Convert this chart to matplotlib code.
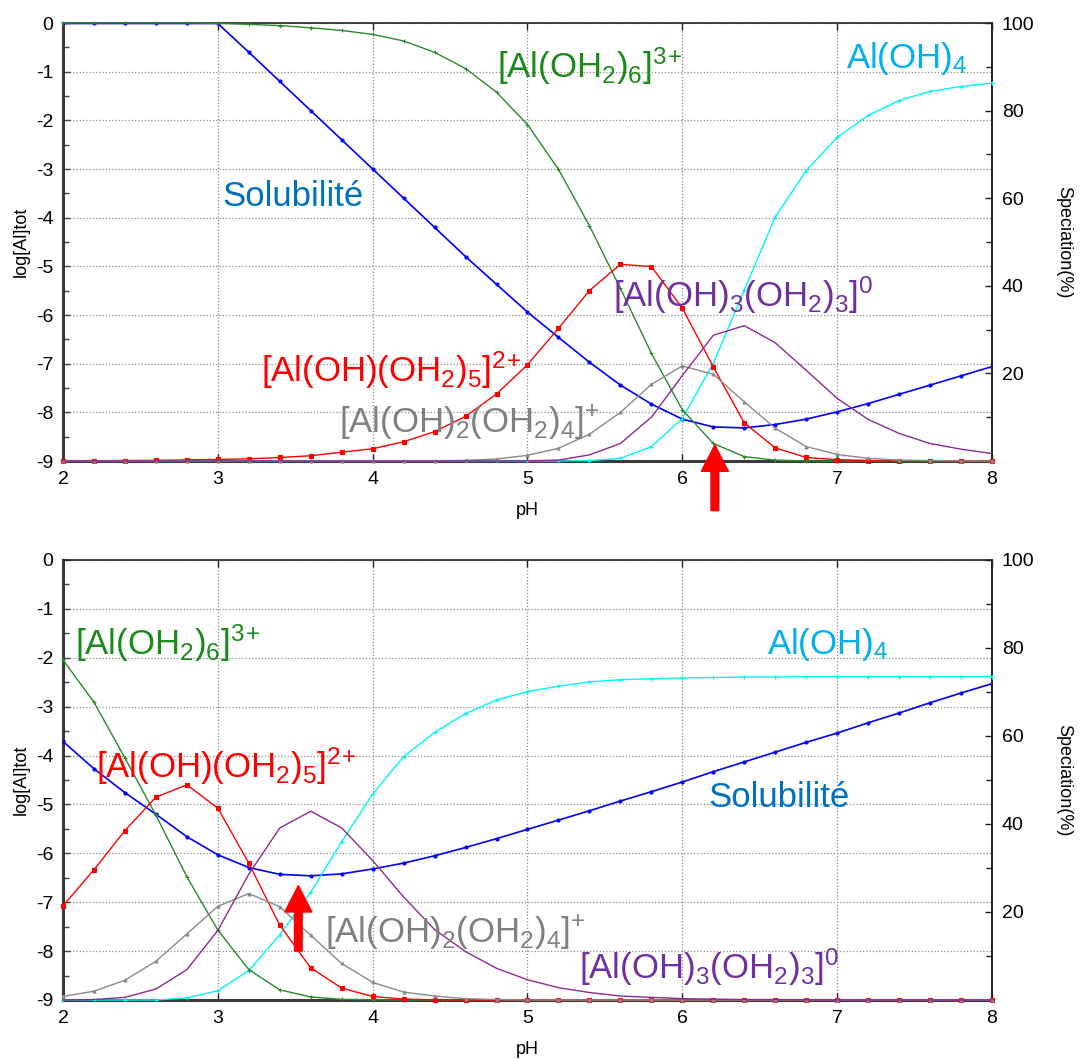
import matplotlib
matplotlib.use("Agg")
import matplotlib.pyplot as plt
from matplotlib.ticker import MultipleLocator, FixedLocator

plt.rcParams.update({
    "font.family": ["Liberation Sans", "DejaVu Sans"],
    "mathtext.fontset": "custom",
    "mathtext.rm": "Liberation Sans",
    "mathtext.it": "Liberation Sans:italic",
    "mathtext.bf": "Liberation Sans:bold",
    "mathtext.default": "regular",
    "axes.unicode_minus": False,
})

# pH grid (0.2 steps)
pH = [2.0, 2.2, 2.4, 2.6, 2.8, 3.0, 3.2, 3.4, 3.6, 3.8, 4.0, 4.2, 4.4, 4.6, 4.8,
      5.0, 5.2, 5.4, 5.6, 5.8, 6.0, 6.2, 6.4, 6.6, 6.8, 7.0, 7.2, 7.4, 7.6, 7.8, 8.0]

# ---- upper panel ----
top_sol = [-0.01, -0.01, -0.01, -0.01, -0.01, -0.01, -0.6, -1.2, -1.8, -2.4, -3.0,
           -3.6, -4.2, -4.8, -5.37, -5.94, -6.46, -6.97, -7.44, -7.83, -8.14, -8.30,
           -8.32, -8.25, -8.14, -7.99, -7.82, -7.63, -7.44, -7.25, -7.06]
top_al3 = [100, 100, 100, 100, 100, 99.9, 99.7, 99.4, 98.9, 98.3, 97.4, 95.9, 93.3,
           89.6, 84.2, 76.8, 66.6, 53.7, 39.4, 24.6, 11.7, 4.0, 1.0, 0.2, 0, 0, 0, 0,
           0, 0, 0]
top_al2 = [0, 0.05, 0.1, 0.15, 0.25, 0.35, 0.5, 0.8, 1.2, 2.0, 2.8, 4.4, 6.7, 10.2,
           15.3, 22.0, 30.3, 38.9, 44.9, 44.4, 34.9, 21.5, 8.7, 3.0, 0.8, 0.3, 0.1, 0,
           0, 0, 0]
top_al1 = [0, 0, 0, 0, 0, 0, 0, 0, 0, 0, 0, 0, 0.05, 0.15, 0.45, 1.3, 2.9, 6.1, 11.1,
           17.5, 21.7, 19.8, 13.5, 7.5, 3.3, 1.5, 0.6, 0.2, 0.1, 0, 0]
top_al0 = [0, 0, 0, 0, 0, 0, 0, 0, 0, 0, 0, 0, 0, 0, 0, 0.05, 0.2, 1.4, 4.0, 10.0,
           19.5, 28.7, 30.9, 27.0, 20.7, 14.3, 9.5, 6.3, 4.0, 2.7, 1.7]
top_al4 = [0, 0, 0, 0, 0, 0, 0, 0, 0, 0, 0, 0, 0, 0, 0, 0, 0, 0.1, 0.6, 3.3, 9.7,
           22.3, 39.0, 55.7, 66.3, 73.9, 78.9, 82.3, 84.4, 85.5, 86.3]

# ---- lower panel ----
bot_sol = [-3.71, -4.27, -4.76, -5.20, -5.66, -6.03, -6.29, -6.43, -6.46, -6.42,
           -6.32, -6.20, -6.05, -5.88, -5.70, -5.51, -5.32, -5.13, -4.93, -4.74,
           -4.54, -4.33, -4.13, -3.93, -3.73, -3.54, -3.33, -3.13, -2.92, -2.72, -2.53]
bot_al3 = [77.3, 67.7, 55.0, 42.0, 28.0, 15.9, 6.9, 2.3, 0.7, 0.15, 0.05, 0, 0, 0, 0,
           0, 0, 0, 0, 0, 0, 0, 0, 0, 0, 0, 0, 0, 0, 0, 0]
bot_al2 = [21.4, 29.6, 38.5, 46.1, 48.9, 43.6, 31.1, 17.0, 7.3, 2.7, 0.8, 0.2, 0.05,
           0, 0, 0, 0, 0, 0, 0, 0, 0, 0, 0, 0, 0, 0, 0, 0, 0, 0]
bot_al1 = [0.8, 2.0, 4.5, 8.8, 15.0, 21.3, 24.2, 21.2, 14.7, 8.3, 4.0, 1.8, 0.9, 0.3,
           0.1, 0, 0, 0, 0, 0, 0, 0, 0, 0, 0, 0, 0, 0, 0, 0, 0]
bot_al0 = [0, 0.1, 0.6, 2.5, 6.9, 15.8, 28.6, 39.1, 42.9, 39.1, 31.7, 23.4, 16.0,
           11.0, 7.2, 4.6, 2.8, 1.7, 0.9, 0.6, 0.3, 0.2, 0.1, 0.1, 0.05, 0, 0, 0, 0,
           0, 0]
bot_al4 = [0, 0, 0, 0, 0.5, 2.1, 6.7, 14.8, 24.5, 36.0, 46.8, 55.3, 60.8, 65.1, 68.2,
           70.1, 71.3, 72.3, 72.8, 73.0, 73.2, 73.3, 73.4, 73.4, 73.5, 73.5, 73.5,
           73.5, 73.5, 73.5, 73.5]

# charges written as two superscript pieces so "+" keeps no operator spacing
LBL_AL3 = r"[Al(OH$_2$)$_6$]$^{3}$$^{+}$"
LBL_AL2 = r"[Al(OH)(OH$_2$)$_5$]$^{2}$$^{+}$"
LBL_AL1 = r"[Al(OH)$_2$(OH$_2$)$_4$]$^{+}$"
LBL_AL0 = r"[Al(OH)$_3$(OH$_2$)$_3$]$^{0}$"
LBL_AL4 = r"Al(OH)$_4$"
LBL_SOL = "Solubilité"

C_SOL, C_AL3, C_AL2, C_AL1, C_AL0, C_AL4 = ("#0000ff", "#2a8a2a", "#ff0000",
                                           "#8a8a8a", "#8a2a95", "#00f5f5")
T_SOL, T_AL3, T_AL2, T_AL1, T_AL0, T_AL4 = ("#0070c0", "#1a8a1a", "#ff0000",
                                           "#808080", "#7030a0", "#00b0f0")

W, H = 1083, 1060
fig = plt.figure(figsize=(W / 100, H / 100), dpi=100)


def panel(y_top_px, y_bot_px, sol, species, labels, arrow):
    ax = fig.add_axes([63 / W, 1 - y_bot_px / H, 929 / W, (y_bot_px - y_top_px) / H])
    ax2 = ax.twinx()

    ax.set_xlim(2, 8)
    ax.set_ylim(-9, 0)
    ax2.set_ylim(0, 100)

    ax.xaxis.set_major_locator(MultipleLocator(1))
    ax.yaxis.set_major_locator(MultipleLocator(1))
    ax.yaxis.set_minor_locator(MultipleLocator(0.5))
    ax2.yaxis.set_major_locator(FixedLocator([20, 40, 60, 80, 100]))
    ax2.yaxis.set_minor_locator(FixedLocator([10, 30, 50, 70, 90]))

    ax.tick_params(axis="x", which="major", direction="in", top=True, bottom=True,
                   length=5, width=1, labelsize=14, pad=7, colors="#222222",
                   labelcolor="black")
    ax.tick_params(axis="y", which="both", direction="in", left=True, right=False,
                   labelsize=14, pad=7, colors="#444444", labelcolor="black")
    ax.tick_params(axis="y", which="major", length=5, width=1)
    ax.tick_params(axis="y", which="minor", length=4, width=1)
    ax2.tick_params(axis="y", which="both", direction="in", right=True, left=False,
                    labelsize=14, pad=7, colors="#222222", labelcolor="black")
    ax2.tick_params(axis="y", which="major", length=5, width=1)
    ax2.tick_params(axis="y", which="minor", length=4, width=1)

    ax.grid(True, which="major", linestyle=(0, (1, 1.6)), color="#8c8c8c",
            linewidth=0.9)

    for side in ("left", "bottom"):
        ax.spines[side].set_linewidth(2.2)
        ax.spines[side].set_color("#3a3a3a")
    for side in ("top", "right"):
        ax.spines[side].set_linewidth(1.2)
        ax.spines[side].set_color("#222222")
    for side in ("left", "bottom", "top"):
        ax2.spines[side].set_visible(False)
    ax2.spines["right"].set_linewidth(1.2)
    ax2.spines["right"].set_color("#222222")

    ax.set_xlabel("pH", fontsize=13, labelpad=10)
    ax.set_ylabel("log[Al]tot", fontsize=13, labelpad=4)
    ax2.set_ylabel("Speciation(%)", fontsize=13, rotation=270, va="bottom",
                   labelpad=15)

    ax.plot(pH, sol, color=C_SOL, lw=1.2, marker="o", ms=2.0, zorder=3)

    styles = [(C_AL3, "+", 3.2), (C_AL2, "s", 2.2), (C_AL1, "^", 2.2),
              (C_AL0, "", 0), (C_AL4, "+", 3.2)]
    order = [4, 0, 1, 2, 3]
    for i in order:
        col, mk, ms = styles[i]
        ax2.plot(pH, species[i], color=col, lw=1.0, marker=mk or None, ms=ms,
                 mew=0.8, clip_on=False, zorder=3)

    for text, col, x, y in labels:
        ax2.text(x, y, text, color=col, fontsize=25, ha="left", va="baseline",
                 transform=ax.transData, zorder=6)

    ax_x, tip, tail = arrow
    ax2.annotate("", xy=(ax_x, tip), xytext=(ax_x, tail),
                 xycoords=ax.transData, textcoords=ax.transData,
                 arrowprops=dict(arrowstyle="simple,head_length=1.9,head_width=1.95,"
                                            "tail_width=0.55",
                                 color="#ff0000", mutation_scale=10,
                                 shrinkA=0, shrinkB=0),
                 annotation_clip=False, zorder=7)
    return ax, ax2


panel(23, 461, top_sol, [top_al3, top_al2, top_al1, top_al0, top_al4],
      [(LBL_AL3, T_AL3, 4.80, -1.13),
       (LBL_AL4, T_AL4, 7.06, -0.92),
       (LBL_SOL, T_SOL, 3.03, -3.76),
       (LBL_AL2, T_AL2, 3.28, -7.37),
       (LBL_AL1, T_AL1, 3.78, -8.42),
       (LBL_AL0, T_AL0, 5.55, -5.83)],
      (6.21, -8.67, -10.02))

panel(560, 1000, bot_sol, [bot_al3, bot_al2, bot_al1, bot_al0, bot_al4],
      [(LBL_AL3, T_AL3, 2.08, -1.94),
       (LBL_AL4, T_AL4, 6.55, -1.93),
       (LBL_SOL, T_SOL, 6.17, -5.05),
       (LBL_AL2, T_AL2, 2.21, -4.46),
       (LBL_AL1, T_AL1, 3.69, -7.84),
       (LBL_AL0, T_AL0, 5.33, -8.56)],
      (3.52, -6.66, -8.0))

fig.savefig("out.png", dpi=100)
